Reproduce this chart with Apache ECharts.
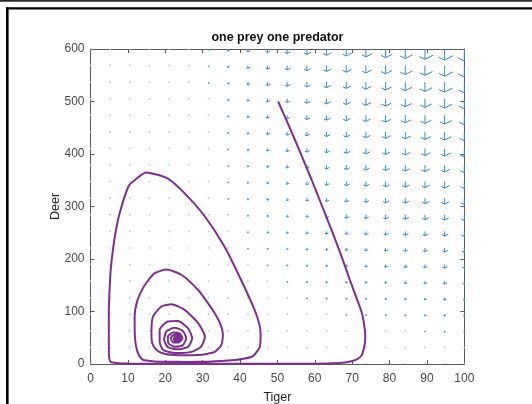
<!DOCTYPE html>
<html>
<head>
<meta charset="utf-8">
<script src="https://cdn.jsdelivr.net/npm/echarts@6/dist/echarts.min.js"></script>
<style>
html,body{margin:0;padding:0;background:#fff;}
#chart{width:532px;height:404px;}
</style>
</head>
<body>
<div id="chart"></div>
<script>
// ---- data ----
const titleText = 'one prey one predator';
const xName = 'Tiger';
const yName = 'Deer';
const xTicks = [0, 10, 20, 30, 40, 50, 60, 70, 80, 90, 100];
const yTicks = [0, 100, 200, 300, 400, 500, 600];

// quiver grid (tail positions)
const gridTiger = [0, 5.26, 10.53, 15.79, 21.05, 26.32, 31.58, 36.84, 42.11, 47.37,
                   52.63, 57.89, 63.16, 68.42, 73.68, 78.95, 84.21, 89.47, 94.74, 100];
const gridDeer = [0, 31.6, 63.2, 94.7, 126.3, 157.9, 189.5, 221.1, 252.6, 284.2,
                  315.8, 347.4, 378.9, 410.5, 442.1, 473.7, 505.3, 536.8, 568.4, 600];
// arrow vertical component (deer units), one row per gridDeer value (bottom to top)
const arrowDeer = [
  [0,0,0,0,0, 0,0,0,0,0, 0,0,0,0,0, 0,0,0,0,0],
  [0,0,0,0,0, 0,-0.1,-0.2,-0.3,-0.4, -0.5,-0.5,-0.6,-0.7,-0.8, -0.9,-1.0,-1.0,-1.1,-1.2],
  [0,0,0,0,0, -0.1,-0.2,-0.4,-0.6,-0.7, -0.9,-1.1,-1.2,-1.4,-1.6, -1.7,-1.9,-2.1,-2.2,-2.4],
  [0,0,0,0,0, -0.1,-0.4,-0.6,-0.9,-1.1, -1.4,-1.6,-1.9,-2.1,-2.4, -2.6,-2.9,-3.1,-3.4,-3.6],
  [0,0,0,0,0, -0.1,-0.5,-0.8,-1.1,-1.5, -1.8,-2.1,-2.5,-2.8,-3.1, -3.5,-3.8,-4.1,-4.5,-4.8],
  [0,0,0,0,0, -0.2,-0.6,-1.0,-1.4,-1.8, -2.3,-2.7,-3.1,-3.5,-3.9, -4.3,-4.8,-5.2,-5.6,-6.0],
  [0,0,0,0,0, -0.2,-0.7,-1.2,-1.7,-2.2, -2.7,-3.2,-3.7,-4.2,-4.7, -5.2,-5.7,-6.2,-6.7,-7.2],
  [0,0,0,0,0, -0.3,-0.8,-1.4,-2.0,-2.6, -3.2,-3.7,-4.3,-4.9,-5.5, -6.1,-6.7,-7.2,-7.8,-8.4],
  [0,0,0,0,0, -0.3,-1.0,-1.6,-2.3,-3.0, -3.6,-4.3,-5.0,-5.6,-6.3, -6.9,-7.6,-8.3,-8.9,-9.6],
  [0,0,0,0,0, -0.3,-1.1,-1.8,-2.6,-3.3, -4.1,-4.8,-5.6,-6.3,-7.1, -7.8,-8.6,-9.3,-10.0,-10.8],
  [0,0,0,0,0, -0.4,-1.2,-2.0,-2.9,-3.7, -4.5,-5.4,-6.2,-7.0,-7.8, -8.7,-9.5,-10.3,-11.2,-12.0],
  [0,0,0,0,0, -0.4,-1.3,-2.2,-3.1,-4.1, -5.0,-5.9,-6.8,-7.7,-8.6, -9.6,-10.5,-11.4,-12.3,-13.2],
  [0,0,0,0,0, -0.4,-1.4,-2.4,-3.4,-4.4, -5.4,-6.4,-7.4,-8.4,-9.4, -10.4,-11.4,-12.4,-13.4,-14.4],
  [0,0,0,0,0, -0.5,-1.6,-2.6,-3.7,-4.8, -5.9,-7.0,-8.0,-9.1,-10.2, -11.3,-12.4,-13.4,-14.5,-15.6],
  [0,0,0,0,0, -0.5,-1.7,-2.8,-4.0,-5.2, -6.3,-7.5,-8.7,-9.8,-11.0, -12.2,-13.3,-14.5,-15.6,-16.8],
  [0,0,0,0,0, -0.5,-1.8,-3.0,-4.3,-5.5, -6.8,-8.0,-9.3,-10.5,-11.8, -13.0,-14.3,-15.5,-16.7,-18.0],
  [0,0,0,0,0, -0.6,-1.9,-3.2,-4.6,-5.9, -7.2,-8.6,-9.9,-11.2,-12.6, -13.9,-15.2,-16.5,-17.9,-19.2],
  [0,0,0,0,0, -0.6,-2.0,-3.4,-4.9,-6.3, -7.7,-9.1,-10.5,-11.9,-13.3, -14.8,-16.2,-17.6,-19.0,-20.4],
  [0,0,0,0,0, -0.7,-2.2,-3.6,-5.1,-6.7, -8.1,-9.6,-11.1,-12.6,-14.1, -15.6,-17.1,-18.6,-20.1,-21.6],
  [0,0,0,0,0, -0.7,-2.3,-3.8,-5.4,-7.0, -8.6,-10.2,-11.8,-13.3,-14.9, -16.5,-18.1,-19.7,-21.2,-22.8]
];

// phase trajectory (Tiger, Deer)
const tigerPath = [50.2, 53, 56, 59.2, 62, 64.5, 67, 69.4, 71.2, 72.6, 73.4, 73.5, 73.4, 72.6, 71.5, 70.3, 68, 65, 60, 56,
  45, 35, 25, 15, 10, 7.5, 6, 5.3, 5.0, 4.9, 4.9, 4.9, 5.1, 5.4, 6.5, 7.8, 10.2, 11.8, 14.8, 20.5,
  25.2, 30.6, 35.9, 40.3, 43.9, 45.2, 45.5, 45.3, 43.5, 41, 38.6, 35, 31.4, 26, 21, 17, 15, 14.1, 13.2, 12.4,
  11.9, 11.8, 12.5, 14, 15.5, 17.2, 20.3, 24.3, 28.8, 31.5, 33.2, 34.8, 35.4, 35, 33.2, 31, 28.8, 25.5, 22.5, 19.5,
  17.6, 16.5, 16.3, 16.7, 18.9, 21.6, 25.2, 28.8, 30.6, 29.6, 27, 24.5, 22, 19.4, 18.5, 18.5, 20.7, 23.4, 26.1, 27.2,
  26.1, 23.4, 20.7, 19.7, 20.3, 22.5, 24.7, 25.6, 24.7, 22.5, 20.9, 20.7, 22.1, 23.9, 24.6, 23.6, 22.1, 21.5, 22.1, 23.4,
  24.0, 23.7, 22.6, 22.3, 22.7, 23.6, 23.9, 23.4, 22.7, 22.6, 23.1, 23.6, 23.5, 22.9, 22.9, 23.3, 23.4, 23.1, 23.0, 23.3, 23.2];
const deerPath = [500, 455, 405, 350, 300, 255, 208, 160, 125, 97, 65, 50, 39, 17, 10, 6.3, 3, 1.3, 0.6, 0.4,
  0.3, 0.3, 0.4, 0.6, 0.9, 1.6, 2.8, 5, 12, 33, 70, 103, 140, 179, 242, 287, 339, 350, 365, 354,
  325, 281, 223, 160, 103, 75, 58, 33, 15, 10, 7.6, 5.5, 4.4, 4, 4.2, 5, 6.5, 8, 14, 27,
  50, 90, 120, 144, 160, 173, 180, 170, 141, 115, 97, 75, 58, 36, 23, 19, 17, 16.5, 17, 20,
  27, 40, 58, 90, 109, 114, 103, 78, 52, 33, 23, 21, 21.5, 27, 42, 65, 81, 82, 68, 49,
  33, 28, 32, 46, 62, 69, 63, 49, 36, 33, 39, 52, 60, 58, 49, 41, 41, 49, 55, 56,
  50, 43, 43, 48, 54, 54, 49, 45, 45, 49, 52, 51, 47, 46, 49, 51, 50, 47.5, 48.5, 50, 49];

// ---- build library inputs ----
const quiverData = [];
for (let j = 0; j < gridDeer.length; j++) {
  for (let i = 0; i < gridTiger.length; i++) {
    quiverData.push([gridTiger[i], gridDeer[j], 0, arrowDeer[j][i]]);
  }
}
const pathData = tigerPath.map((t, k) => [t, deerPath[k]]);

const FONT = 'Liberation Sans, Arial, Helvetica, sans-serif';
const axisGrey = '#5a5a5a';
const labelGrey = '#4a4a4a';

function renderArrow(params, api) {
  const x = api.value(0), y = api.value(1), u = api.value(2), v = api.value(3);
  const p0 = api.coord([x, y]);
  const p1 = api.coord([x + u, y + v]);
  const dx = p1[0] - p0[0], dy = p1[1] - p0[1];
  const L = Math.sqrt(dx * dx + dy * dy);
  if (L < 1.0) {
    return {
      type: 'rect',
      shape: { x: p0[0] - 0.75, y: p0[1] - 0.75, width: 1.5, height: 1.5 },
      style: { fill: '#a9c7dd' }
    };
  }
  const ux = dx / L, uy = dy / L;
  const sx = uy, sy = -ux;
  const r = [p1[0] - 0.4 * L * ux + 0.78 * L * sx, p1[1] - 0.4 * L * uy + 0.78 * L * sy];
  const l = [p1[0] - 0.27 * L * ux - 0.55 * L * sx, p1[1] - 0.27 * L * uy - 0.55 * L * sy];
  const stroke = { stroke: '#3a8cc2', lineWidth: 1, fill: null };
  return {
    type: 'group',
    children: [
      { type: 'polyline', shape: { points: [p0, p1] }, style: stroke },
      { type: 'polyline', shape: { points: [l, p1, r] }, style: stroke }
    ]
  };
}

const axisLineStyle = { show: true, onZero: false, lineStyle: { color: axisGrey, width: 1 } };
const tickStyle = { show: true, inside: true, length: 4, lineStyle: { color: axisGrey } };

const chart = echarts.init(document.getElementById('chart'), null, { renderer: 'canvas' });
chart.setOption({
  animation: false,
  backgroundColor: '#ffffff',
  title: {
    text: titleText,
    left: 277.4, top: 31.5, textAlign: 'center', padding: 0,
    textStyle: { fontFamily: FONT, fontSize: 12.5, fontWeight: 'bold', color: '#111' }
  },
  grid: { left: 90.5, top: 49, width: 373.8, height: 315, containLabel: false, outerBoundsMode: 'none' },
  xAxis: [{
    type: 'value', min: xTicks[0], max: xTicks[xTicks.length - 1], interval: 10,
    name: xName, nameLocation: 'middle', nameGap: 27, nameMoveOverlap: false,
    nameTextStyle: { fontFamily: FONT, fontSize: 12.5, color: '#262626' },
    axisLine: axisLineStyle, axisTick: tickStyle,
    axisLabel: { fontFamily: FONT, fontSize: 12, color: labelGrey, margin: 9 },
    splitLine: { show: false }
  }, {
    type: 'value', position: 'top', min: xTicks[0], max: xTicks[xTicks.length - 1], interval: 10,
    axisLine: axisLineStyle, axisTick: tickStyle,
    axisLabel: { show: false }, splitLine: { show: false }
  }],
  yAxis: [{
    type: 'value', min: yTicks[0], max: yTicks[yTicks.length - 1], interval: 100,
    name: yName, nameLocation: 'middle', nameGap: 28, nameMoveOverlap: false,
    nameTextStyle: { fontFamily: FONT, fontSize: 12.5, color: '#262626' },
    axisLine: axisLineStyle, axisTick: tickStyle,
    axisLabel: { fontFamily: FONT, fontSize: 12, color: labelGrey, margin: 6 },
    splitLine: { show: false }
  }, {
    type: 'value', position: 'right', min: yTicks[0], max: yTicks[yTicks.length - 1], interval: 100,
    axisLine: axisLineStyle, axisTick: tickStyle,
    axisLabel: { show: false }, splitLine: { show: false }
  }],
  series: [{
    type: 'custom',
    renderItem: renderArrow,
    data: quiverData,
    encode: { x: 0, y: 1 },
    clip: true,
    silent: true,
    z: 2
  }, {
    type: 'line',
    data: pathData,
    showSymbol: false,
    smooth: 0.2,
    clip: true,
    lineStyle: { color: '#7E2F8E', width: 2 },
    itemStyle: { color: '#7E2F8E' },
    z: 3
  }],
  graphic: [
    { type: 'rect', shape: { x: 0, y: 0, width: 532, height: 1.8 }, style: { fill: '#2a2a2a' } },
    { type: 'rect', shape: { x: 6, y: 7.3, width: 526, height: 2.2 }, style: { fill: '#000' } },
    { type: 'rect', shape: { x: 6, y: 7.3, width: 2.6, height: 397 }, style: { fill: '#000' } }
  ]
});
</script>
</body>
</html>
